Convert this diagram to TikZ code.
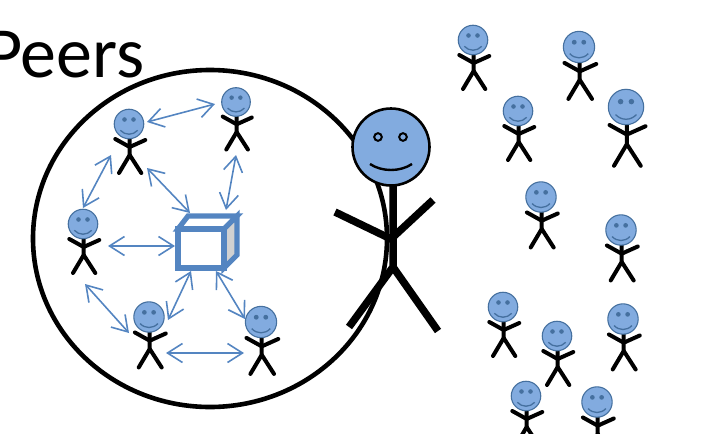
\documentclass[tikz,border=0pt]{standalone}
\usepackage{fontspec}
\setmainfont{Carlito}
\usepackage{xcolor}
\usetikzlibrary{arrows.meta}
\definecolor{PeerBlue}{HTML}{82ABDF}
\definecolor{LinkBlue}{HTML}{5485C1}
\definecolor{FaceBlue}{HTML}{45709F}
\tikzset{
limb/.style={draw=black, line width=4pt, line cap=round},
biglimb/.style={draw=black, line width=7.5pt},
peerhead/.style={circle, draw=FaceBlue, fill=PeerBlue, line width=1.1pt, inner sep=0pt, minimum size=29.5pt, transform shape},
bighead/.style={circle, draw=black, fill=PeerBlue, line width=2.6pt, inner sep=0pt, minimum size=77pt},
link/.style={draw=LinkBlue, line width=1.6pt, {Straight Barb[length=15pt,width=19pt]}-{Straight Barb[length=15pt,width=19pt]}},
boxline/.style={draw=LinkBlue, line width=5.2pt, line join=miter},
person/.pic={
  \draw[limb] (0.7,14) -- (0.7,31) -- (-10,49);
  \draw[limb] (0.7,31) -- (12.3,49);
  \draw[limb] (-13.7,15) -- (0.7,23) -- (16.3,16);
  \node[peerhead] (-head) at (0,0) {};
  \fill[FaceBlue] (-4.5,-4.5) circle (2.3) (4.5,-4.5) circle (2.3);
  \draw[FaceBlue, line width=1.3pt] (-8.7,6.3) .. controls (-4,11.5) and (4,11.5) .. (8.7,6.3);
},
}

\begin{document}
\begin{tikzpicture}[x=1pt, y=-1pt]
\clip (0,0) rectangle (713,434);

\node[anchor=base west, inner sep=0pt, font=\fontsize{72}{80}\selectfont] (title) at (-15,77) {Peers};

%% ---- the ring round the inner group ----
\draw[line width=4.6pt] (210,238.5) ellipse [x radius=177, y radius=168.5];

%% ---- inner group ----
\pic (pa) at (129,124) {person};
\pic (pb) at (236,102) [scale=0.97] {person};
\pic (pc) at (83,224) {person};
\pic (pd) at (149,317) [scale=1.03] {person};
\pic (pe) at (261,322) [scale=1.06] {person};

%% ---- the box ----
\draw[boxline, fill=white] (178,229) -- (188,216) -- (237,216) -- (224,229) -- cycle;
\draw[boxline, fill=black!18] (224,229) -- (237,216) -- (237,255) -- (224,268) -- cycle;
\node[boxline, fill=white, rectangle, inner sep=0pt, minimum width=46pt, minimum height=39pt] (box) at (201,248.5) {};

%% ---- free ends of the double arrows ----
\coordinate (ab) at (147,122);
\coordinate (ba) at (215,104);
\coordinate (ac) at (111,155);
\coordinate (ca) at (83,208);
\coordinate (ax) at (147,168);
\coordinate (xa) at (190,213);
\coordinate (bx) at (236,155);
\coordinate (xb) at (226,210);
\coordinate (cx) at (108,246);
\coordinate (xc) at (175,246);
\coordinate (cd) at (85,284);
\coordinate (dc) at (129,333);
\coordinate (dx) at (168,320);
\coordinate (xd) at (191,271);
\coordinate (ex) at (245,319);
\coordinate (xe) at (216,271);
\coordinate (de) at (166,353);
\coordinate (ed) at (244,353);
\foreach \s/\t in {ab/ba, ac/ca, ax/xa, bx/xb, cx/xc, cd/dc, dx/xd, ex/xe, de/ed}
  \draw[link] (\s) -- (\t);

%% ---- the big one ----
\draw[biglimb] (393,180) -- (393,267) -- (349,327);
\draw[biglimb] (393,267) -- (438,331);
\draw[biglimb] (335,212) -- (391,239) -- (433,200);
\node[bighead] (me) at (391,147) {};
\draw[line width=2pt] (378,137) circle (3.8) (403,137) circle (3.8);
\draw[line width=2.4pt] (370,164) .. controls (382,172) and (400,172) .. (412,164);

%% ---- the crowd outside ----
\pic (q1) at (473,40) {person};
\pic (q2) at (579,47) [scale=1.06] {person};
\pic (q3) at (518,111) {person};
\pic (q4) at (626,107) [scale=1.2] {person};
\pic (q5) at (541,197) [scale=1.03] {person};
\pic (q6) at (621,230) [scale=1.03] {person};
\pic (q7) at (503,307) {person};
\pic (q8) at (557,336) {person};
\pic (q9) at (623,319) [scale=1.03] {person};
\pic (q10) at (526,396) {person};
\pic (q11) at (597,402) [scale=1.03] {person};
\end{tikzpicture}
\end{document}
